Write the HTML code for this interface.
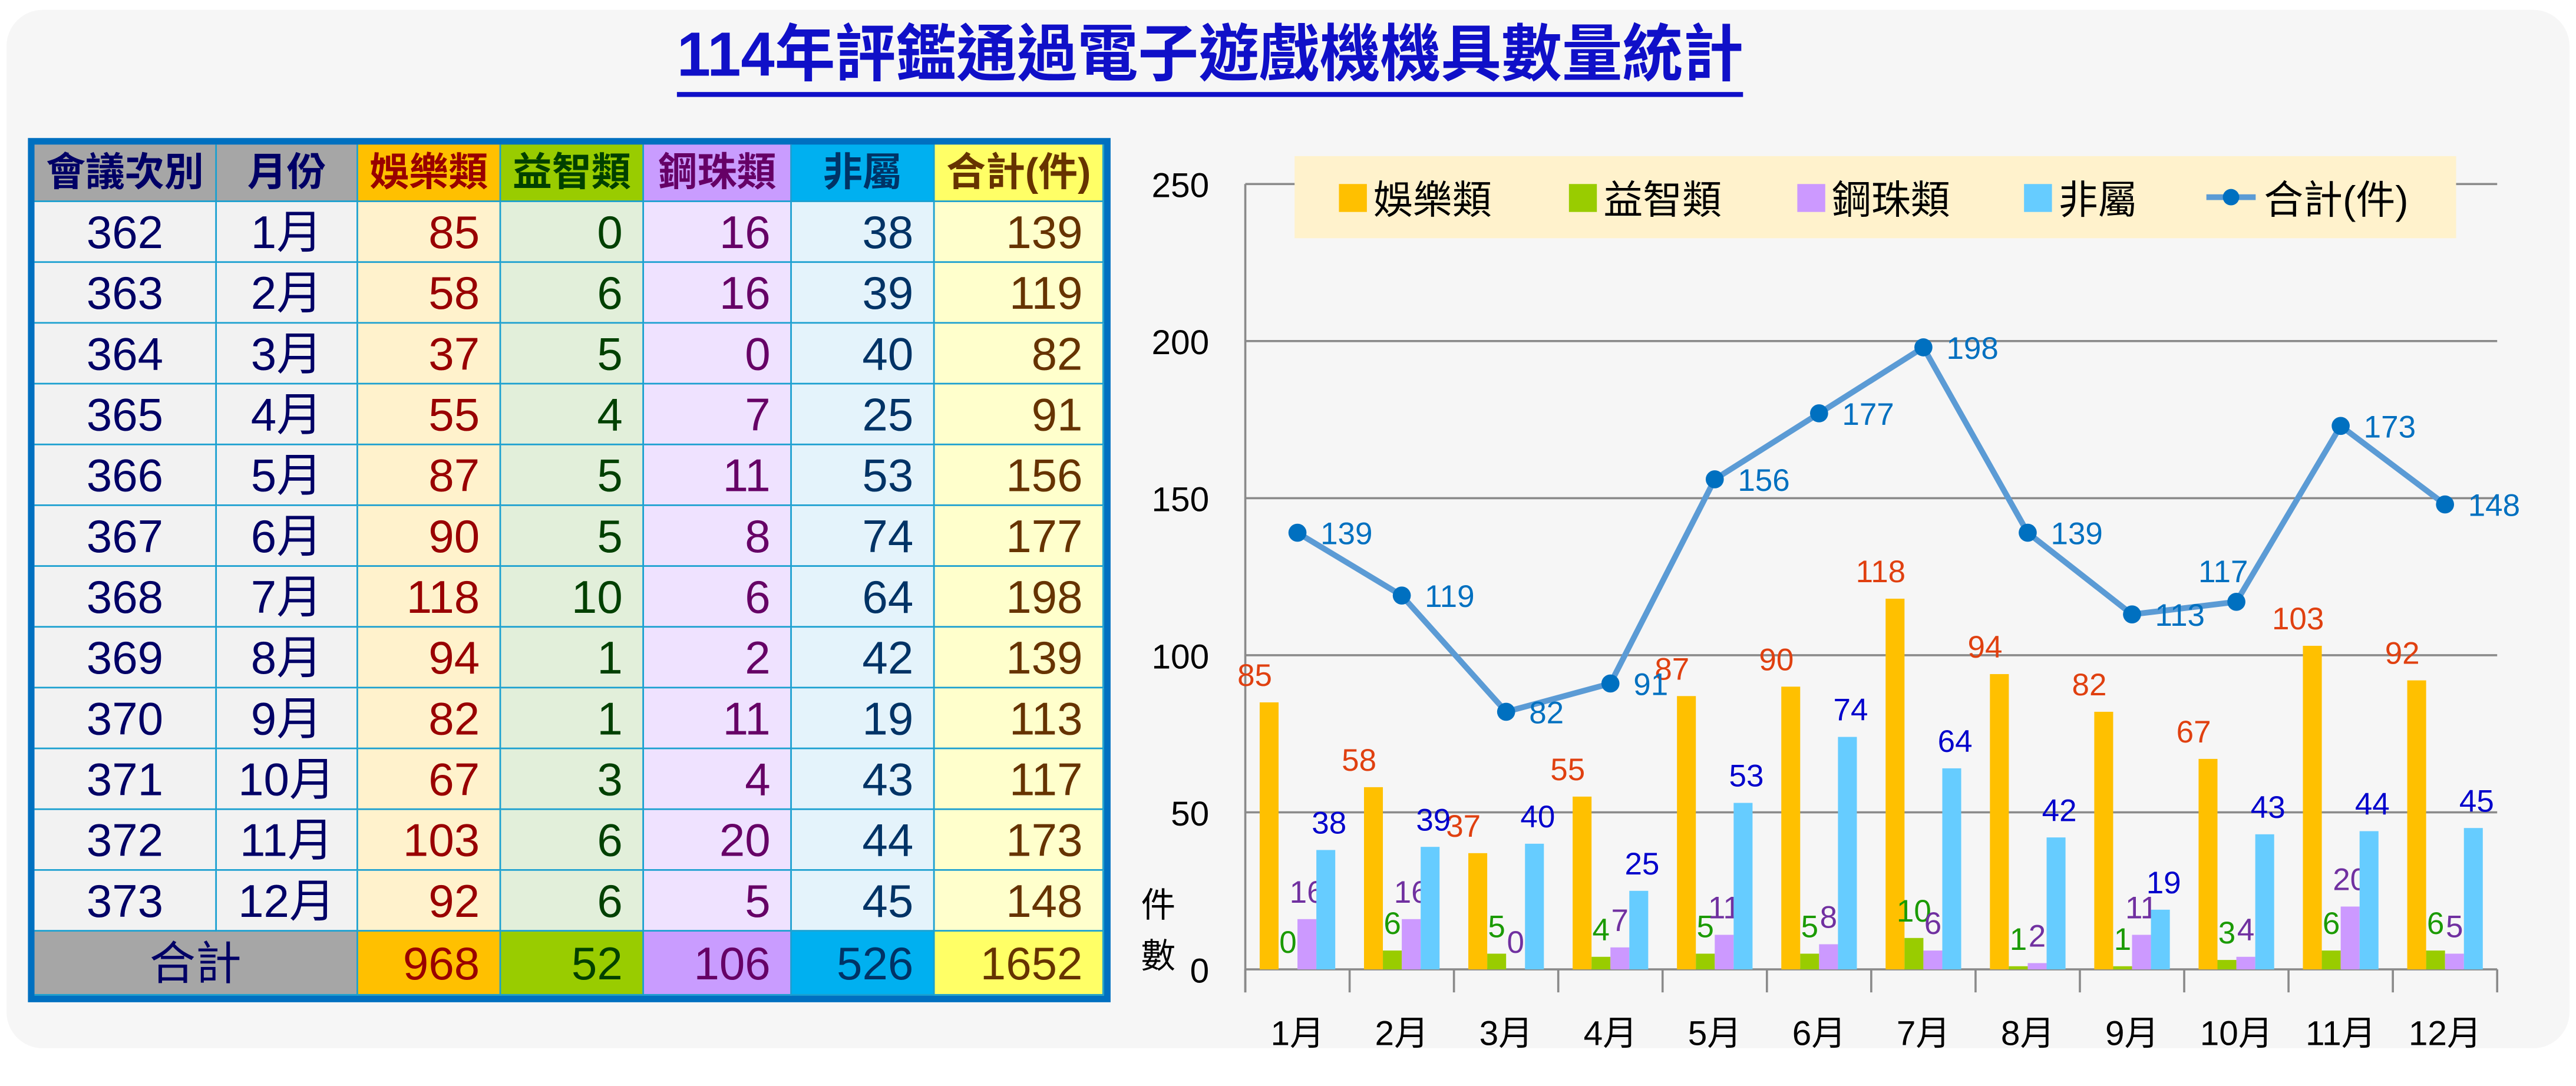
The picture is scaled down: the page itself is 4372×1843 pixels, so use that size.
<!DOCTYPE html>
<html><head><meta charset="utf-8">
<style>
html,body{margin:0;padding:0;background:#fff;}
body{width:4372px;height:1842px;overflow:hidden;position:relative;font-family:"Liberation Sans","Noto Sans CJK TC",sans-serif;}
#wrap{position:absolute;left:0;top:0;width:1568px;height:661px;transform:scale(2.7883);transform-origin:0 0;}
#panel{position:absolute;left:4px;top:6px;width:1560px;height:632px;background:#f6f6f6;border-radius:22px;}
#title{position:absolute;left:0;width:1473px;top:12px;text-align:center;font-size:38px;font-weight:bold;color:#1010c8;}
#title span{border-bottom:3px solid #1010c8;padding-bottom:0;line-height:44px;display:inline-block;transform:scaleX(0.97);}
#tbl{position:absolute;left:17px;top:84px;width:659px;height:526px;background:#0070c0;}
.c{position:absolute;box-sizing:border-box;border-right:1px solid #1aa0d0;border-bottom:1px solid #1aa0d0;font-size:28px;line-height:38px;white-space:nowrap;overflow:hidden;}
.h{font-size:24px;font-weight:bold;text-align:center;line-height:35px;}
svg text{font-family:"Liberation Sans","Noto Sans CJK TC",sans-serif;}
</style></head><body>
<div id="wrap">
<div id="panel"></div>
<div id="title"><span>114年評鑑通過電子遊戲機機具數量統計</span></div>
<div id="tbl"></div>
<svg id="chart" style="position:absolute;left:0;top:0" width="1568" height="661"></svg>
</div>
<script>
const months=["1月","2月","3月","4月","5月","6月","7月","8月","9月","10月","11月","12月"];
const meetings=["362","363","364","365","366","367","368","369","370","371","372","373"];
const ent=[85,58,37,55,87,90,118,94,82,67,103,92];
const puz=[0,6,5,4,5,5,10,1,1,3,6,6];
const steel=[16,16,0,7,11,8,6,2,11,4,20,5];
const other=[38,39,40,25,53,74,64,42,19,43,44,45];
const total=[139,119,82,91,156,177,198,139,113,117,173,148];
const yTicks=[0,50,100,150,200,250];
const seriesNames=["娛樂類","益智類","鋼珠類","非屬"];

// ---- table ----
const tbl=document.getElementById('tbl');
const colX=[4,115,201,288,375,465,552,655];
const headers=["會議次別","月份","娛樂類","益智類","鋼珠類","非屬","合計(件)"];
const headBg=["#a6a6a6","#a6a6a6","#ffc000","#99cc00","#c99cff","#00b0f0","#ffff66"];
const bodyBg=["#f2f2f2","#f2f2f2","#fff2cc","#e2efda","#efe2ff","#e4f3fb","#ffffcc"];
const txt=["#000066","#000066","#990000","#004000","#660066","#003366","#663300"];
const sums=[ent,puz,steel,other,total].map(a=>a.reduce((s,v)=>s+v,0));
function cell(ci,y,h,bg,content,cls,align){
  const d=document.createElement('div');
  d.className='c '+cls;
  d.style.left=colX[ci]+'px';d.style.top=y+'px';
  d.style.width=(colX[ci+1]-colX[ci])+'px';d.style.height=h+'px';
  d.style.background=bg;d.style.color=txt[ci];
  d.style.textAlign=align;
  if(align==='right')d.style.paddingRight='12px';
  d.textContent=content;
  tbl.appendChild(d);return d;
}
for(let c=0;c<7;c++){
  const d=cell(c,4,35,headBg[c],headers[c],'h','center');
  
  
}
const cols=[meetings,months,ent,puz,steel,other,total];
for(let r=0;r<12;r++){
  for(let c=0;c<7;c++){
    const d=cell(c,39+r*37,37,bodyBg[c],cols[c][r],'',c<2?'center':'right');
    
    
  }
}
{
  const y=39+12*37,h=522-y;
  const d=document.createElement('div');
  d.className='c';d.style.left='4px';d.style.top=y+'px';d.style.width=(colX[2]-4)+'px';d.style.height=h+'px';
  d.style.background='#a6a6a6';d.style.color='#000066';d.style.textAlign='center';d.style.lineHeight=h+'px';d.textContent='合計';
  
  
  tbl.appendChild(d);
  for(let c=2;c<7;c++){
    const e=cell(c,y,h,headBg[c],sums[c-2],'', 'right');
    e.style.lineHeight=h+'px';
    
    
  }
}
// ---- chart ----
const svg=document.getElementById('chart');
const NS='http://www.w3.org/2000/svg';
const X0=758,X1=1520,Y0=590,Y1=112,YMAX=250;
const cw=(X1-X0)/12;
const yS=v=>Y0-(v/YMAX)*(Y0-Y1);
const cx=i=>X0+cw*(i+0.5);
function el(tag,attrs){const e=document.createElementNS(NS,tag);for(const k in attrs)e.setAttribute(k,attrs[k]);svg.appendChild(e);return e;}
function tx(x,y,s,size,fill,anchor){const e=el('text',{x:x,y:y,'font-size':size,fill:fill,'text-anchor':anchor||'middle'});e.textContent=s;return e;}
yTicks.forEach(t=>{
  if(t>0){const g=el('line',{x1:X0,x2:X1,y1:yS(t),y2:yS(t),stroke:'#8a8a8a','stroke-width':1.3});
  
  }
  const l=tx(736,yS(t)+8,t,21,'#000','end');
  
  
});
{const a=el('line',{x1:X0,x2:X0,y1:Y1,y2:Y0+14,stroke:'#8a8a8a','stroke-width':1.3});


const b=el('line',{x1:X0,x2:X1,y1:Y0,y2:Y0,stroke:'#8a8a8a','stroke-width':1.3});

}
for(let i=0;i<=12;i++){const t=el('line',{x1:X0+cw*i,x2:X0+cw*i,y1:Y0,y2:Y0+14,stroke:'#8a8a8a','stroke-width':1.3});

}
months.forEach((m,i)=>{const l=tx(cx(i),636,m,21,'#000');

});
{const a=tx(705,558,'件',21,'#000');
const b=tx(705,589,'數',21,'#000');}
const series=[ent,puz,steel,other];
const barCol=["#ffc000","#99cc00","#cc99ff","#66ccff"];
const lblCol=["#e04010","#1a9a00","#7030a0","#0000cc"];
const bw=11.5;
series.forEach((arr,s)=>{
  arr.forEach((v,i)=>{
    const x=cx(i)-2*bw+s*bw;
    const r=el('rect',{x:x,y:yS(v),width:bw,height:Y0-yS(v),fill:barCol[s]});
    
    
    const lx=s===0?x-3:x+bw/2+(s===3?2:0);
    const l=tx(lx,yS(v)-10,v,19,lblCol[s]);
    
    
  });
});
const pts=total.map((v,i)=>cx(i)+','+yS(v)).join(' ');
{const p=el('polyline',{points:pts,fill:'none',stroke:'#5b9bd5','stroke-width':3.5,'stroke-linejoin':'round'});

}
total.forEach((v,i)=>{
  const c=el('circle',{cx:cx(i),cy:yS(v),r:5.5,fill:'#0070c0'});
  
  
  const above=(i===9);
  const l=above?tx(cx(i)-8,yS(v)-12,v,19,'#0070c0'):tx(cx(i)+14,yS(v)+7,v,19,'#0070c0','start');
  
  
});
{const lg=el('rect',{x:788,y:95,width:707,height:50,fill:'#fff2cc'});


const lx=[815,955,1094,1232];
seriesNames.forEach((n,s)=>{
  const r=el('rect',{x:lx[s],y:112,width:17,height:17,fill:barCol[s]});
  
  
  const t=tx(lx[s]+21,130,n,24,'#000','start');
  
  
});
const ll=el('line',{x1:1343,x2:1373,y1:120,y2:120,stroke:'#5b9bd5','stroke-width':3.5});


const lc=el('circle',{cx:1358,cy:120,r:5,fill:'#0070c0'});


const lt=tx(1378,130,'合計(件)',24,'#000','start');

}
</script>
</body></html>
